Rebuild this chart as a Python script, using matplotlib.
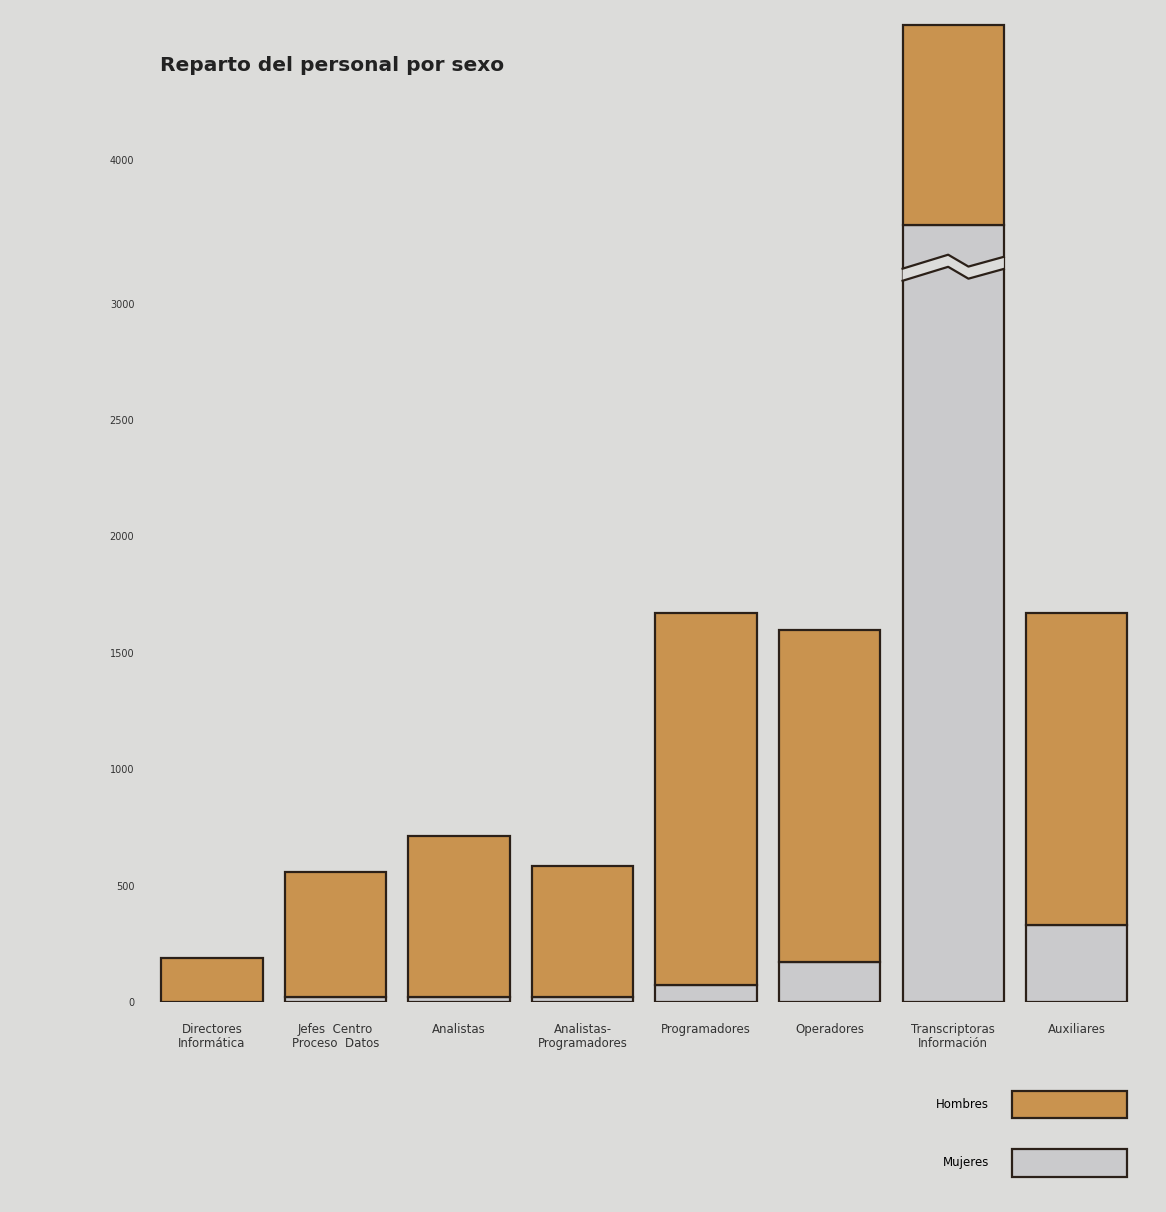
import numpy as np
import matplotlib
matplotlib.use("Agg")
import matplotlib.pyplot as plt
from matplotlib.patches import Patch, Polygon

# Data
categorias = ["Directores\nInformática", "Jefes  Centro\nProceso  Datos", "Analistas",
              "Analistas-\nProgramadores", "Programadores", "Operadores",
              "Transcriptoras\nInformación", "Auxiliares"]
mujeres = [0, 20, 20, 20, 75, 170, 3550, 330]
hombres = [190, 540, 695, 565, 1595, 1430, 1385, 1340]
ticks = [0, 500, 1000, 1500, 2000, 2500, 3000, 4000]
corte = 3250  # value where the Transcriptoras bar is broken

fondo = "#dcdcda"
naranja = "#c9934f"
gris = "#cacacc"
borde = "#2b2018"

# axis is compressed above 3000
k = 0.619
def fwd(y):
    y = np.asarray(y, dtype=float)
    return np.where(y <= 3000, y, 3000 + (y - 3000) * k)
def inv(y):
    y = np.asarray(y, dtype=float)
    return np.where(y <= 3000, y, 3000 + (y - 3000) / k)

fig = plt.figure(figsize=(11.66, 12.12), dpi=100, facecolor=fondo)
ax = fig.add_axes([0.12, 0.1733, 0.866, 0.810])
ax.set_facecolor(fondo)
ax.set_yscale("function", functions=(fwd, inv))

x = np.arange(len(categorias))
w = 0.82
ax.bar(x, mujeres, w, color=gris, edgecolor=borde, linewidth=1.6)
ax.bar(x, hombres, w, bottom=mujeres, color=naranja, edgecolor=borde, linewidth=1.6)

# zigzag break on the tallest bar
i = int(np.argmax(mujeres))
xs = x[i] + np.array([-0.5, -0.05, 0.15, 0.5]) * w
off = np.array([-30, 30, -21, 21])  # forward-space offsets of the zigzag
top = inv(fwd(corte) + off + 26)
bot = inv(fwd(corte) + off - 26)
ax.add_patch(Polygon(np.column_stack([np.r_[xs, xs[::-1]], np.r_[top, bot[::-1]]]),
                     closed=True, facecolor=fondo, edgecolor="none", zorder=3))
ax.plot(xs, top, color=borde, lw=1.6, zorder=4)
ax.plot(xs, bot, color=borde, lw=1.6, zorder=4)

ax.set_xlim(-0.583, 7.59)
ax.set_ylim(0, 4968)
ax.set_yticks(ticks)
ax.set_yticklabels([str(t) for t in ticks], fontsize=7, color="#333333")
ax.set_xticks(x)
ax.set_xticklabels(categorias, fontsize=8.5, color="#333333", linespacing=1.15)
ax.tick_params(axis="both", length=0)
ax.tick_params(axis="y", pad=4)
ax.tick_params(axis="x", pad=15)
for s in ax.spines.values():
    s.set_visible(False)

fig.text(0.137, 0.946, "Reparto del personal por sexo", fontsize=14.5,
         fontweight="bold", color="#222222", va="center")

handles = [Patch(facecolor=naranja, edgecolor=borde, linewidth=1.6),
           Patch(facecolor=gris, edgecolor=borde, linewidth=1.6)]
fig.legend(handles, ["Hombres", "Mujeres"], loc="upper right",
           bbox_to_anchor=(1127 / 1166, 1 - 1091 / 1212), frameon=False,
           markerfirst=False, fontsize=8.5, handlelength=9.7, handleheight=3.2,
           labelspacing=2.6, handletextpad=2.0, borderpad=0, borderaxespad=0)

plt.savefig("out.png", dpi=100, facecolor=fondo)
